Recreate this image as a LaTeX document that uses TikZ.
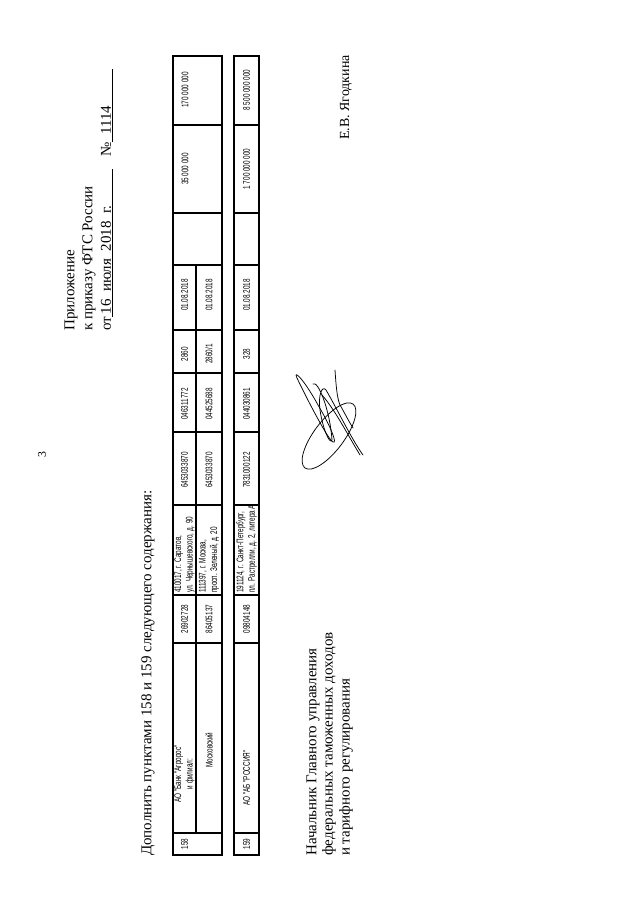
\documentclass[tikz,border=0pt]{standalone}
\usepackage{fontspec}
\setmainfont{Liberation Serif}
\newfontfamily\tabfont[FakeStretch=0.66]{Liberation Sans}

\begin{document}
\begin{tikzpicture}[x=0.328mm,y=-0.328mm,
  txt/.style={rotate=90,anchor=west,inner sep=0pt,font=\fontsize{14}{16}\selectfont},
  cell/.style={rotate=90,inner sep=0pt,font=\tabfont\fontsize{9}{10.8}\selectfont},
  grid/.style={line width=1.1pt},
  sig/.style={line width=0.7pt,line cap=round}]
  \useasboundingbox[fill=white] (0,0) rectangle (640,905);
  % page number and heading
  \node[rotate=90,font=\fontsize{11}{12}\selectfont] (page) at (42,455) {3};
  \node[txt] (appx) at (71,331) {Приложение};
  \node[txt] (order) at (89,331) {к приказу ФТС России};
  \node[txt] (date) at (107,331) {от\underline{\,16\ \ июля\ \ 2018\ \ г.\hspace{12mm}}\hspace{4mm}№\underline{\ \ 1114\hspace{12mm}}};
  \node[txt] (intro) at (148,856) {Дополнить пунктами 158 и 159 следующего содержания:};
  % tables
  \foreach \x/\X in {173/222,234/259}{
    \draw[grid] (\x,56) rectangle (\X,855);
    \foreach \y in {125,213,265,330,373,432,505,595,643,833}
      \draw[grid] (\x,\y) -- (\X,\y);
  }
  \draw[grid] (196,265) -- (196,833);
  % item 158
  \node[cell] (n158) at (184.5,844) {158};
  \node[cell,align=center] (bank) at (184.5,774) {АО "Банк "Агророс"\\и филиал:};
  \node[cell] (okpoA) at (184.5,619) {26902728};
  \node[cell,anchor=west,align=left] (adrA) at (184.5,593) {410017, г. Саратов,\\ул. Чернышевского, д. 90};
  \node[cell] (innA) at (184.5,470) {6453033870};
  \node[cell] (bikA) at (184.5,404) {046311772};
  \node[cell] (regA) at (184.5,354) {2860};
  \node[cell] (dateA) at (184.5,295) {01.08.2018};
  \node[cell] (sumA) at (185,169) {35 000 000};
  \node[cell] (limA) at (185,90) {170 000 000};
  \node[cell] (branch) at (209,750) {Московский};
  \node[cell] (okpoB) at (209,619) {86405137};
  \node[cell,anchor=west,align=left] (adrB) at (209,593) {111397, г. Москва,\\просп. Зеленый, д. 20};
  \node[cell] (innB) at (209,470) {6453033870};
  \node[cell] (bikB) at (209,404) {044525688};
  \node[cell] (regB) at (209,354) {2860/1};
  \node[cell] (dateB) at (209,295) {01.08.2018};
  % item 159
  \node[cell] (n159) at (246.5,844) {159};
  \node[cell] (bank2) at (246.5,778) {АО "АБ "РОССИЯ"};
  \node[cell] (okpoC) at (246.5,619) {09804148};
  \node[cell,anchor=west,align=left] (adrC) at (246.5,593) {191124, г. Санкт-Петербург,\\пл. Растрелли, д. 2, литера А};
  \node[cell] (innC) at (246.5,470) {7831000122};
  \node[cell] (bikC) at (246.5,404) {044030861};
  \node[cell] (regC) at (246.5,354) {328};
  \node[cell] (dateC) at (246.5,295) {01.08.2018};
  \node[cell] (sumC) at (246.5,169) {1 700 000 000};
  \node[cell] (limC) at (246.5,90) {8 500 000 000};
  % signature block
  \node[txt] (head1) at (313,856) {Начальник Главного управления};
  \node[txt] (head2) at (329,856) {федеральных таможенных доходов};
  \node[txt] (head3) at (346,856) {и тарифного регулирования};
  \node[txt,anchor=east,font=\fontsize{13}{15}\selectfont] (name) at (346,55) {Е.В. Ягодкина};
  \draw[sig,rotate around={53:(329,436)}] (329,436) ellipse (40 and 15);
  \draw[sig] (297,378) .. controls (293,370) and (302,376) .. (318,405)
    .. controls (330,425) and (338,445) .. (333,442) .. controls (328,440) and (305,395) .. (297,378);
  \draw[sig] (313,384) .. controls (318,380) and (330,410) .. (332,440)
    .. controls (330,445) and (323,430) .. (320,410) .. controls (318,395) and (322,385) .. (326,390)
    .. controls (335,405) and (352,440) .. (363,455);
  \draw[sig] (335,370) .. controls (336,385) and (337,398) .. (340,405)
    .. controls (343,410) and (348,420) .. (353,428);
  \draw[sig] (322,395) .. controls (335,410) and (345,430) .. (360,455);
\end{tikzpicture}
\end{document}
